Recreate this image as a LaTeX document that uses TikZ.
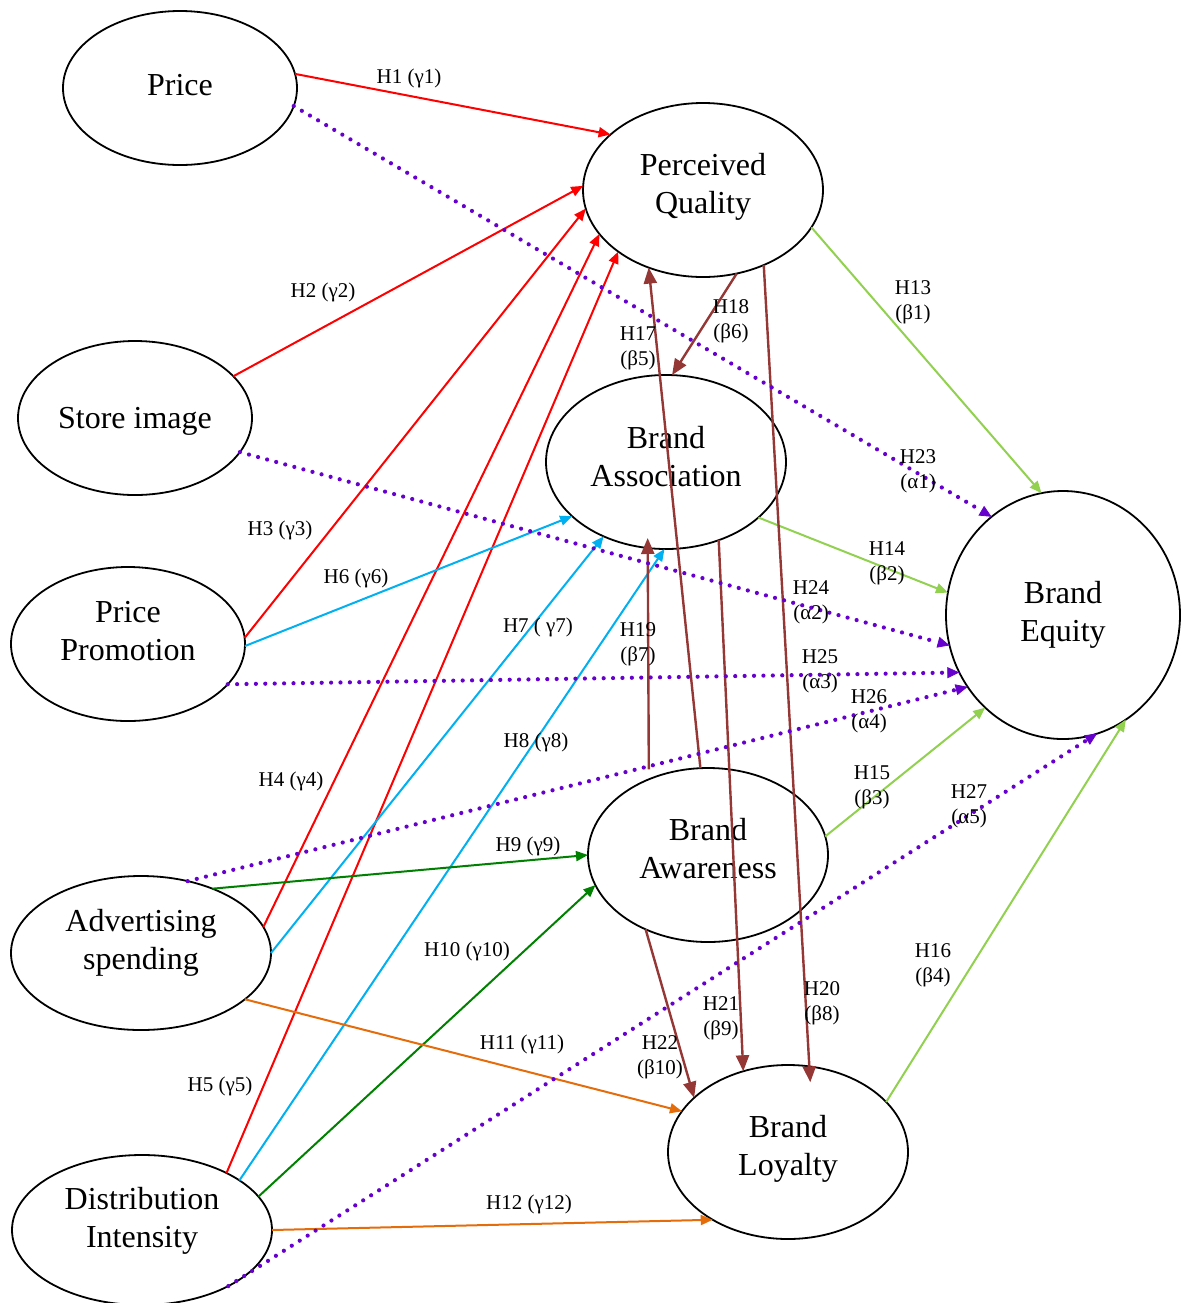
\documentclass[tikz,border=0pt]{standalone}
\usepackage{fontspec}
\setmainfont{Liberation Serif}
\usetikzlibrary{arrows.meta,shapes.geometric}
\definecolor{cred}{RGB}{255,0,0}
\definecolor{ccyan}{RGB}{0,176,240}
\definecolor{cgreen}{RGB}{0,128,0}
\definecolor{corange}{RGB}{228,108,10}
\definecolor{clime}{RGB}{146,208,80}
\definecolor{cbrown}{RGB}{149,55,53}
\definecolor{cpurple}{RGB}{102,0,204}
\begin{document}
\begin{tikzpicture}[x=0.5pt,y=-0.5pt,
  construct/.style={draw, ellipse, line width=0.9pt, inner sep=0pt, outer sep=0pt},
  ctext/.style={align=center, inner sep=0pt, font=\fontsize{16}{19}\selectfont},
  hlab/.style={align=center, font=\fontsize{10.5}{12.5}\selectfont, inner sep=0pt},
  link/.style={line width=1pt, -{Triangle[length=6pt,width=5pt]}},
  blink/.style={cbrown, line width=1.2pt, -{Triangle[length=8pt,width=6.5pt]}},
  dlink/.style={cpurple, line width=2.1pt, line cap=round, dash pattern=on 0pt off 4.7pt,
    -{Triangle[length=6pt,width=5.5pt,line width=0.4pt]}}]
\useasboundingbox (0,0) rectangle (1182,1303);

% constructs (outlines)
\node[construct, minimum width=117pt, minimum height=77pt] (price) at (180,88) {};
\node[construct, minimum width=117pt, minimum height=77pt] (store) at (135,418) {};
\node[construct, minimum width=117pt, minimum height=77pt] (promo) at (128,644) {};
\node[construct, minimum width=130pt, minimum height=77pt] (adv) at (141,953) {};
\node[construct, minimum width=130pt, minimum height=75pt] (dist) at (142,1230) {};
\node[construct, minimum width=120pt, minimum height=87pt] (pq) at (703,190) {};
\node[construct, minimum width=120pt, minimum height=87pt] (ba) at (666,462) {};
\node[construct, minimum width=120pt, minimum height=87pt] (baw) at (708,855) {};
\node[construct, minimum width=120pt, minimum height=87pt] (bl) at (788,1152) {};
\node[construct, minimum width=117pt, minimum height=124pt] (be) at (1063,615) {};

% construct names
\node[ctext] (pricet) at (180,85) {Price};
\node[ctext] (storet) at (135,421) {Store image};
\node[ctext] (promot) at (128,631.5) {Price\\Promotion};
\node[ctext] (advt) at (141,943) {Advertising\\spending};
\node[ctext] (distt) at (142,1221) {Distribution\\Intensity};
\node[ctext] (pqt) at (703,186.5) {Perceived\\Quality};
\node[ctext] (bat) at (666,457) {Brand\\Association};
\node[ctext] (bawt) at (708,849) {Brand\\Awareness};
\node[ctext] (blt) at (788,1148.5) {Brand\\Loyalty};
\node[ctext] (bet) at (1063,615) {Brand\\Equity};

% red
\draw[link,cred] (price.7.3) -- (pq.149.9);
\draw[link,cred] (store.23.9) -- (pq.178.6);
\draw[link,cred] (promo.3.9) -- (pq.189.7);
\draw[link,cred] (adv.12.9) -- (pq.203.7);
\draw[link,cred] (dist.34.9) -- (pq.216.8);
% cyan
\draw[link,ccyan] (promo.-1.9) -- (ba.210.3);
\draw[link,ccyan] (adv.0.4) -- (ba.230.9);
\draw[link,ccyan] (dist.27) -- (ba.269.3);
% green
\draw[link,cgreen] (adv.42.5) -- (baw.180);
\draw[link,cgreen] (dist.16.3) -- (baw.195.3);
% orange
\draw[link,corange] (adv.-24.8) -- (bl.159.3);
\draw[link,corange] (dist.0.4) -- (bl.222.5);
% lime
\draw[link,clime] (pq.-19.9) -- (be.100.2);
\draw[link,clime] (ba.-31.7) -- (be.169.4);
\draw[link,clime] (baw.9.5) -- (be.230.1);
\draw[link,clime] (bl.27.9) -- (be.-59);
% brown
\draw[blink] (baw.95.3) -- (pq.235.8);
\draw[blink] (pq.292.3) -- (ba.86);
\draw[blink, shorten <=5pt, shorten >=-5pt] (baw.128.7) -- (ba.258.2);
\draw[blink, shorten >=-8pt] (pq.-51.3) -- (bl.76.9);
\draw[blink] (ba.-56.7) -- (bl.119.7);
\draw[blink] (baw.230.8) -- (bl.150.4);
% purple dotted
\draw[dlink] (price.-9.2) -- (be.126.7);
\draw[dlink] (store.-18.8) -- (be.195);
\draw[dlink] (promo.-22.2) -- (be.209.4);
\draw[dlink] (adv.57) -- (be.217.2);
\draw[dlink] (dist.-33.4) -- (be.-74.2);

% labels
\node[hlab] (l1) at (409,78) {H1 (γ1)};
\node[hlab] (l2) at (323,292) {H2 (γ2)};
\node[hlab] (l3) at (280,530) {H3 (γ3)};
\node[hlab] (l6) at (356,578) {H6 (γ6)};
\node[hlab] (l7) at (538,627) {H7 ( γ7)};
\node[hlab] (l4) at (291,781) {H4 (γ4)};
\node[hlab] (l8) at (536,742) {H8 (γ8)};
\node[hlab] (l9) at (528,846) {H9 (γ9)};
\node[hlab] (l10) at (467,951) {H10 (γ10)};
\node[hlab] (l11) at (522,1044) {H11 (γ11)};
\node[hlab] (l5) at (220,1086) {H5 (γ5)};
\node[hlab] (l12) at (529,1204) {H12 (γ12)};
\node[hlab] (l13) at (913,302) {H13\\(β1)};
\node[hlab] (l17) at (638,348) {H17\\(β5)};
\node[hlab] (l18) at (731,321) {H18\\(β6)};
\node[hlab] (l19) at (638,644) {H19\\(β7)};
\node[hlab] (l23) at (918,471) {H23\\(α1)};
\node[hlab] (l14) at (887,563) {H14\\(β2)};
\node[hlab] (l24) at (811,602) {H24\\(α2)};
\node[hlab] (l25) at (820,671) {H25\\(α3)};
\node[hlab] (l26) at (869,711) {H26\\(α4)};
\node[hlab] (l15) at (872,787) {H15\\(β3)};
\node[hlab] (l27) at (969,806) {H27\\(α5)};
\node[hlab] (l16) at (933,965) {H16\\(β4)};
\node[hlab] (l20) at (822,1003) {H20\\(β8)};
\node[hlab] (l21) at (721,1018) {H21\\(β9)};
\node[hlab] (l22) at (660,1057) {H22\\(β10)};
\end{tikzpicture}
\end{document}
